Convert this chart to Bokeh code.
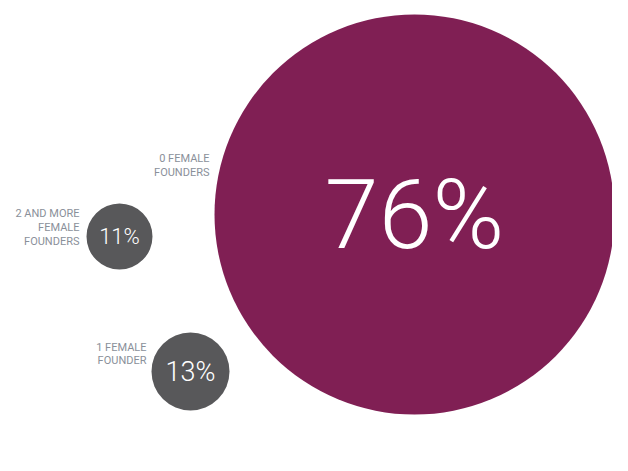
from bokeh.plotting import figure
from bokeh.models import Range1d, ColumnDataSource
from bokeh.core.properties import value
from bokeh.embed import file_html
from bokeh.resources import INLINE

# Data
categories = ["0 FEMALE\nFOUNDERS", "2 AND MORE\nFEMALE\nFOUNDERS", "1 FEMALE\nFOUNDER"]
shares = [76, 11, 13]
colors = ["#801f54", "#58585a", "#58585a"]

# Layout (page pixel coordinates)
cx = [414, 119, 190]
cy = [214, 236, 371]
radius = [200, 33, 39]
pct_size = ["97px", "22px", "27px"]
label_x = [209, 79, 146]
label_y = [165, 227, 353.5]

W, H = 612, 455
p = figure(width=W, height=H, output_backend="svg", toolbar_location=None,
           x_range=Range1d(0, W), y_range=Range1d(H, 0),
           min_border=0, outline_line_color=None, background_fill_color="white")
p.axis.visible = False
p.grid.visible = False

src = ColumnDataSource(dict(
    x=cx, y=cy, r=radius, color=colors,
    txt=[f"{s}%" for s in shares], size=pct_size,
    lx=label_x, ly=label_y, lab=categories))

p.circle(x="x", y="y", radius="r", fill_color="color", line_color=None, source=src)
p.text(x="x", y="y", text="txt", text_font_size="size", text_color="white",
       text_align="center", text_baseline="middle",
       text_font=value("Roboto Light, Roboto, sans-serif"), source=src)
p.text(x="lx", y="ly", text="lab", text_font_size="11px", text_color="#8a909a",
       text_align="right", text_baseline="middle", text_line_height=1.05,
       text_font=value("Roboto, sans-serif"), source=src)

open("out.html", "w").write(file_html(p, INLINE))
